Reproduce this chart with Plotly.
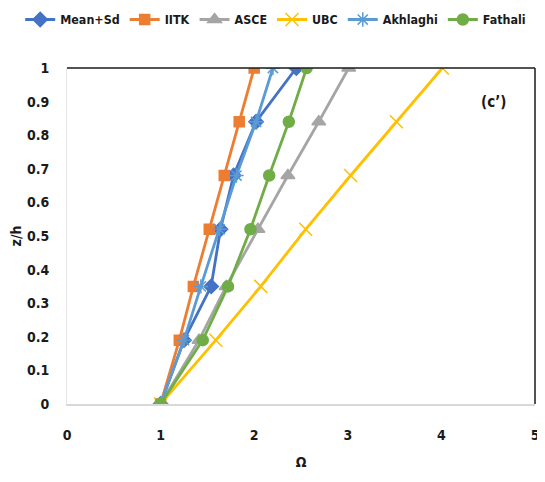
import plotly.graph_objects as go

# z/h levels shared by all series
z_h = [0, 0.19, 0.35, 0.52, 0.68, 0.84, 1.0]

mean_sd = [1.0, 1.25, 1.54, 1.64, 1.78, 2.02, 2.45]
iitk = [1.0, 1.20, 1.35, 1.52, 1.68, 1.84, 2.00]
asce = [1.0, 1.41, 1.70, 2.04, 2.36, 2.69, 3.01]
ubc = [1.0, 1.59, 2.07, 2.55, 3.03, 3.52, 4.01]
akhlaghi = [1.0, 1.25, 1.43, 1.63, 1.81, 2.02, 2.20]
fathali = [1.0, 1.45, 1.72, 1.96, 2.16, 2.37, 2.56]

x_ticks = [0, 1, 2, 3, 4, 5]
y_ticks = [0, 0.1, 0.2, 0.3, 0.4, 0.5, 0.6, 0.7, 0.8, 0.9, 1]

FONT = "DejaVu Sans Condensed, Liberation Sans Narrow, Arial Narrow, sans-serif"


def bold(size):
    return dict(family=FONT, size=size, color="#1a1a1a", weight="bold")


series = [
    ("Mean+Sd", mean_sd, "#4472C4", "diamond", 11),
    ("IITK", iitk, "#ED7D31", "square", 10),
    ("ASCE", asce, "#A5A5A5", "triangle-up", 12),
    ("UBC", ubc, "#FFC000", "x-thin-open", 13),
    ("Akhlaghi", akhlaghi, "#5B9BD5", "asterisk-open", 12),
    ("Fathali", fathali, "#70AD47", "circle", 11),
]

fig = go.Figure()
for name, vals, color, symbol, size in series:
    fig.add_trace(go.Scatter(
        x=vals, y=z_h, name=name, mode="lines+markers",
        line=dict(color=color, width=2.8),
        marker=dict(symbol=symbol, size=size, color=color,
                    line=dict(color=color, width=1.5)),
    ))

# page body adds ~8px offset, margins compensate for it
fig.update_layout(
    width=545, height=482,
    paper_bgcolor="white", plot_bgcolor="white",
    font=bold(13),
    margin=dict(l=59, r=18, t=60, b=86, autoexpand=False),
    showlegend=True,
    legend=dict(orientation="h", x=-0.1, xanchor="left", y=1.143, yanchor="middle",
                font=bold(12.4), itemwidth=30, tracegroupgap=0),
    xaxis=dict(
        range=[0, 5], tickvals=x_ticks, showgrid=False, zeroline=False,
        showline=True, linecolor="#D9D9D9", linewidth=1.5,
        ticks="", ticklabelstandoff=17,
        tickfont=bold(14),
        title=dict(text="Ω", font=bold(14), standoff=16),
    ),
    yaxis=dict(
        range=[0, 1], tickvals=y_ticks, tickformat=".1~f", showgrid=False, zeroline=False,
        showline=True, linecolor="#E6E6E6", linewidth=1,
        ticks="", ticklabelstandoff=14,
        tickfont=bold(14),
        title=dict(text="z/h", font=bold(14), standoff=8),
    ),
    shapes=[
        dict(type="line", xref="paper", yref="paper", x0=0, x1=1, y0=1, y1=1,
             line=dict(color="#1a1a1a", width=1.5)),
        dict(type="line", xref="paper", yref="paper", x0=1, x1=1, y0=0, y1=1,
             line=dict(color="#1a1a1a", width=1.5)),
    ],
    annotations=[
        dict(x=4.56, y=0.9, xref="x", yref="y", text="(c’)", showarrow=False,
             font=bold(15)),
    ],
)

fig.write_html("out.html")
